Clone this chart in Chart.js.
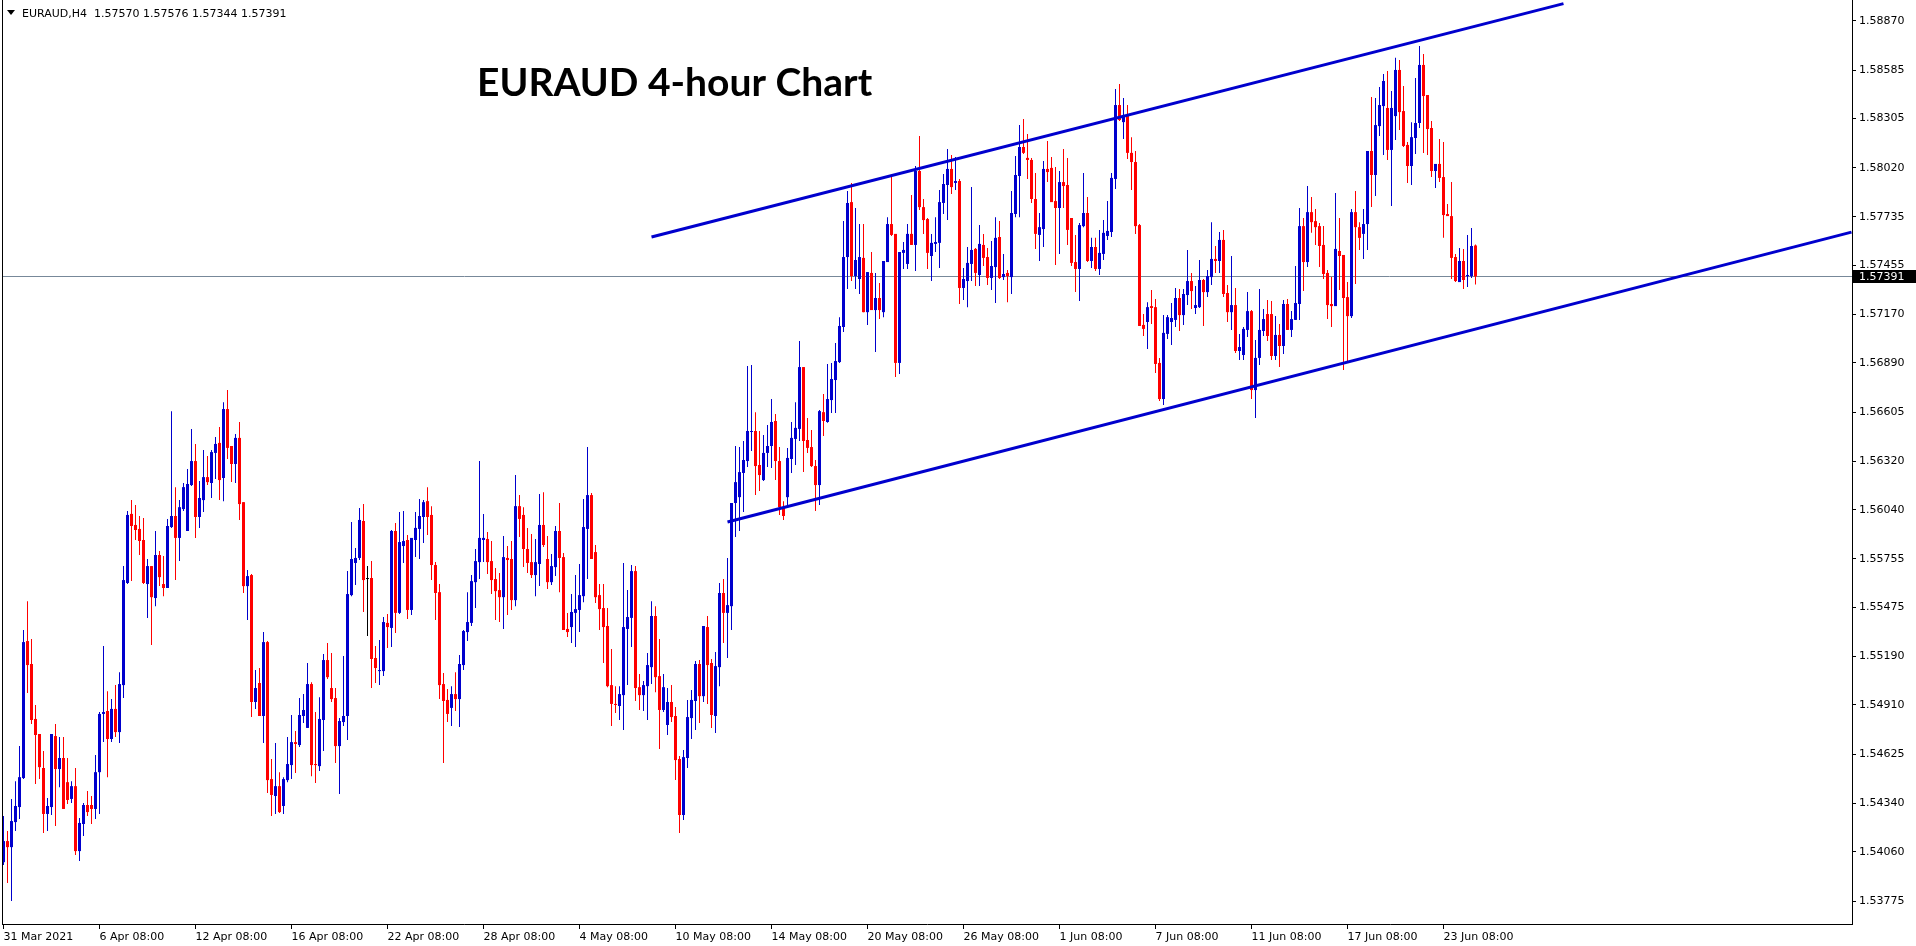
<!DOCTYPE html>
<html>
<head>
<meta charset="utf-8">
<title>EURAUD 4-hour Chart</title>
<script src="https://cdn.jsdelivr.net/npm/chart.js@4.4.1/dist/chart.umd.min.js"></script>
<style>
  html, body { margin: 0; padding: 0; background: #fff; }
  canvas { display: block; }
</style>
</head>
<body>
<canvas id="chart" width="1916" height="946"></canvas>
<script>
const symbol = 'EURAUD,H4';
const chartTitle = 'EURAUD 4-hour Chart';

// H4 candles, one per bar, oldest first
const opens = [
  1.54000, 1.54122, 1.54087, 1.54232, 1.54319, 1.54487, 1.55280, 1.55147, 1.54829, 1.54742,
  1.54545, 1.54279, 1.54319, 1.54730, 1.54539, 1.54603, 1.54463, 1.54366, 1.54440, 1.54064,
  1.54221, 1.54331, 1.54331, 1.54308, 1.54521, 1.54858, 1.54875, 1.54713, 1.54887, 1.54753,
  1.55025, 1.55616, 1.56016, 1.55952, 1.55929, 1.55865, 1.55610, 1.55714, 1.55529, 1.55778,
  1.55610, 1.55587, 1.55940, 1.56004, 1.55877, 1.56044, 1.55917, 1.56183, 1.56322, 1.55998,
  1.56096, 1.56229, 1.56195, 1.56369, 1.56427, 1.56224, 1.56623, 1.56409, 1.56305, 1.56456,
  1.56084, 1.55598, 1.55662, 1.54927, 1.55037, 1.54846, 1.55274, 1.54481, 1.54383, 1.54440,
  1.54325, 1.54475, 1.54562, 1.54695, 1.54678, 1.54846, 1.54777, 1.55031, 1.54568, 1.54556,
  1.54823, 1.55170, 1.55008, 1.54950, 1.54672, 1.54811, 1.54846, 1.55546, 1.55732, 1.55761,
  1.55975, 1.55639, 1.55645, 1.55182, 1.55106, 1.55106, 1.55385, 1.55356, 1.55917, 1.55443,
  1.55830, 1.55865, 1.55460, 1.55865, 1.55929, 1.55998, 1.56090, 1.56010, 1.55720, 1.55563,
  1.55031, 1.54939, 1.54893, 1.54973, 1.54944, 1.55141, 1.55332, 1.55385, 1.55621, 1.55737,
  1.55865, 1.55871, 1.55743, 1.55639, 1.55575, 1.55534, 1.55761, 1.55755, 1.55517, 1.56061,
  1.56010, 1.55813, 1.55737, 1.55662, 1.55726, 1.55952, 1.55755, 1.55621, 1.55708, 1.55917,
  1.55766, 1.55350, 1.55361, 1.55443, 1.55460, 1.55540, 1.55929, 1.56125, 1.55795, 1.55546,
  1.55471, 1.55367, 1.55025, 1.54916, 1.54904, 1.54967, 1.55350, 1.55414, 1.55685, 1.55013,
  1.54967, 1.55019, 1.55129, 1.55425, 1.55077, 1.54881, 1.54794, 1.54927, 1.54846, 1.54597,
  1.54273, 1.54603, 1.54834, 1.54933, 1.55147, 1.54961, 1.55361, 1.55153, 1.54846, 1.55129,
  1.55558, 1.55443, 1.55482, 1.56079, 1.56113, 1.56253, 1.56322, 1.56490, 1.56496, 1.56299,
  1.56212, 1.56369, 1.56409, 1.56554, 1.56322, 1.56055, 1.56113, 1.56334, 1.56450, 1.56508,
  1.56866, 1.56444, 1.56403, 1.56293, 1.56183, 1.56605, 1.56548, 1.56675, 1.56791, 1.56895,
  1.57098, 1.57503, 1.57821, 1.57393, 1.57376, 1.57498, 1.57184, 1.57411, 1.57196, 1.57266,
  1.57184, 1.57474, 1.57694, 1.57637, 1.56890, 1.57527, 1.57463, 1.57637, 1.57573, 1.58001,
  1.57792, 1.57723, 1.57509, 1.57579, 1.57585, 1.57816, 1.57920, 1.58013, 1.57932, 1.57943,
  1.57324, 1.57364, 1.57463, 1.57550, 1.57399, 1.57573, 1.57503, 1.57382, 1.57445, 1.57619,
  1.57387, 1.57411, 1.57387, 1.57752, 1.57972, 1.58140, 1.58077, 1.58065, 1.57839, 1.57631,
  1.57665, 1.58013, 1.58019, 1.57827, 1.57787, 1.57937, 1.57920, 1.57729, 1.57474, 1.57434,
  1.57682, 1.57758, 1.57480, 1.57561, 1.57434, 1.57521, 1.57625, 1.57648, 1.57955, 1.58383,
  1.58284, 1.58325, 1.58106, 1.58053, 1.57688, 1.57110, 1.57127, 1.57219, 1.57213, 1.56890,
  1.56681, 1.57058, 1.57127, 1.57139, 1.57266, 1.57167, 1.57283, 1.57364, 1.57208, 1.57213,
  1.57370, 1.57300, 1.57387, 1.57492, 1.57480, 1.57602, 1.57295, 1.57184, 1.57225, 1.56959,
  1.56936, 1.57081, 1.57190, 1.56733, 1.56919, 1.57075, 1.57173, 1.57173, 1.56930, 1.57052,
  1.56988, 1.57231, 1.57081, 1.57139, 1.57231, 1.57682, 1.57474, 1.57763, 1.57711, 1.57682,
  1.57573, 1.57411, 1.57231, 1.57219, 1.57538, 1.57515, 1.57271, 1.57161, 1.57763, 1.57676,
  1.57637, 1.57694, 1.58117, 1.57978, 1.58261, 1.58377, 1.58366, 1.58123, 1.58319, 1.58586,
  1.58348, 1.58152, 1.58030, 1.58192, 1.58279, 1.58615, 1.58441, 1.58250, 1.58001, 1.58042,
  1.57966, 1.57752, 1.57740, 1.57503, 1.57358, 1.57480, 1.57393, 1.57393, 1.57570
];
const highs = [
  1.54267, 1.54180, 1.54366, 1.54469, 1.54672, 1.55344, 1.55511, 1.55292, 1.54910, 1.54742,
  1.54643, 1.54372, 1.54742, 1.54800, 1.54724, 1.54724, 1.54603, 1.54469, 1.54545, 1.54256,
  1.54343, 1.54412, 1.54383, 1.54620, 1.54869, 1.55251, 1.54990, 1.54944, 1.55025, 1.55100,
  1.55714, 1.56033, 1.56096, 1.56067, 1.56004, 1.55993, 1.55755, 1.55714, 1.55917, 1.55801,
  1.55772, 1.55987, 1.56611, 1.56171, 1.56096, 1.56195, 1.56276, 1.56508, 1.56421, 1.56206,
  1.56386, 1.56351, 1.56386, 1.56461, 1.56519, 1.56663, 1.56733, 1.56409, 1.56479, 1.56548,
  1.56084, 1.55691, 1.55668, 1.55112, 1.55124, 1.55332, 1.55280, 1.54597, 1.54690, 1.54521,
  1.54492, 1.54724, 1.54852, 1.54759, 1.54950, 1.54973, 1.55153, 1.55042, 1.54869, 1.54955,
  1.55205, 1.55269, 1.55211, 1.55008, 1.54835, 1.55193, 1.55685, 1.55969, 1.55819, 1.56050,
  1.56073, 1.55714, 1.55743, 1.55251, 1.55286, 1.55419, 1.55437, 1.55923, 1.55964, 1.56027,
  1.56033, 1.55894, 1.55877, 1.56027, 1.56102, 1.56096, 1.56171, 1.56061, 1.55737, 1.55610,
  1.55095, 1.55002, 1.55019, 1.55100, 1.55199, 1.55344, 1.55563, 1.55662, 1.55813, 1.56322,
  1.56016, 1.55911, 1.55859, 1.55703, 1.55674, 1.55888, 1.55830, 1.55859, 1.56241, 1.56125,
  1.56055, 1.55935, 1.55900, 1.55871, 1.56131, 1.56142, 1.55888, 1.55784, 1.55946, 1.56079,
  1.55790, 1.55443, 1.55552, 1.55662, 1.55726, 1.56102, 1.56403, 1.56137, 1.55836, 1.55610,
  1.55610, 1.55471, 1.55234, 1.55019, 1.55019, 1.55732, 1.55575, 1.55720, 1.55714, 1.55089,
  1.55048, 1.55211, 1.55511, 1.55482, 1.55292, 1.55089, 1.55008, 1.55025, 1.54898, 1.54614,
  1.54649, 1.54939, 1.54996, 1.55164, 1.55170, 1.55367, 1.55425, 1.55176, 1.55216, 1.55616,
  1.55639, 1.55761, 1.56079, 1.56409, 1.56403, 1.56438, 1.56872, 1.56878, 1.56605, 1.56496,
  1.56473, 1.56531, 1.56681, 1.56594, 1.56403, 1.56090, 1.56398, 1.56548, 1.56663, 1.57017,
  1.56866, 1.56571, 1.56502, 1.56328, 1.56617, 1.56710, 1.56884, 1.56890, 1.57006, 1.57155,
  1.57711, 1.57885, 1.57932, 1.57787, 1.57694, 1.57694, 1.57416, 1.57532, 1.57411, 1.57353,
  1.57480, 1.57734, 1.57972, 1.57637, 1.57532, 1.57590, 1.57694, 1.57862, 1.58030, 1.58203,
  1.57839, 1.57729, 1.57637, 1.57734, 1.57891, 1.57984, 1.58129, 1.58094, 1.58082, 1.57955,
  1.57440, 1.57561, 1.57908, 1.57556, 1.57688, 1.57637, 1.57556, 1.57596, 1.57734, 1.57711,
  1.57521, 1.57428, 1.57885, 1.58088, 1.58267, 1.58302, 1.58215, 1.58077, 1.57990, 1.57758,
  1.58059, 1.58175, 1.58082, 1.58024, 1.58001, 1.58129, 1.58077, 1.57729, 1.57631, 1.57700,
  1.57990, 1.57850, 1.57614, 1.57614, 1.57660, 1.57717, 1.57827, 1.57990, 1.58476, 1.58505,
  1.58424, 1.58383, 1.58197, 1.58117, 1.57694, 1.57173, 1.57242, 1.57312, 1.57260, 1.56919,
  1.57167, 1.57167, 1.57237, 1.57324, 1.57318, 1.57318, 1.57544, 1.57411, 1.57335, 1.57486,
  1.57376, 1.57428, 1.57705, 1.57567, 1.57648, 1.57660, 1.57341, 1.57509, 1.57324, 1.57058,
  1.57098, 1.57300, 1.57196, 1.57023, 1.57318, 1.57202, 1.57254, 1.57248, 1.57161, 1.57116,
  1.57254, 1.57260, 1.57190, 1.57451, 1.57787, 1.57729, 1.57914, 1.57850, 1.57781, 1.57700,
  1.57682, 1.57428, 1.57387, 1.57874, 1.57729, 1.57515, 1.57358, 1.57781, 1.57885, 1.57705,
  1.57781, 1.58117, 1.58429, 1.58424, 1.58487, 1.58563, 1.58580, 1.58464, 1.58656, 1.58644,
  1.58493, 1.58169, 1.58284, 1.58540, 1.58724, 1.58679, 1.58441, 1.58290, 1.58042, 1.58186,
  1.58169, 1.57810, 1.57937, 1.57521, 1.57556, 1.57550, 1.57631, 1.57671, 1.57576
];
const lows = [
  1.53983, 1.53880, 1.53775, 1.54180, 1.54250, 1.54481, 1.54979, 1.54800, 1.54452, 1.54481,
  1.54169, 1.54180, 1.54273, 1.54209, 1.54434, 1.54308, 1.54337, 1.54343, 1.54041, 1.54006,
  1.54151, 1.54267, 1.54221, 1.54250, 1.54279, 1.54695, 1.54492, 1.54695, 1.54724, 1.54690,
  1.54950, 1.55610, 1.55627, 1.55865, 1.55778, 1.55610, 1.55414, 1.55257, 1.55482, 1.55598,
  1.55540, 1.55587, 1.55935, 1.55633, 1.55743, 1.56033, 1.55917, 1.56177, 1.55877, 1.55935,
  1.56027, 1.56183, 1.56108, 1.56218, 1.56096, 1.56090, 1.56334, 1.56200, 1.56195, 1.55981,
  1.55558, 1.55402, 1.54840, 1.54887, 1.54846, 1.54690, 1.54401, 1.54267, 1.54279, 1.54285,
  1.54279, 1.54463, 1.54481, 1.54516, 1.54666, 1.54806, 1.54777, 1.54498, 1.54458, 1.54527,
  1.54643, 1.55060, 1.54927, 1.54574, 1.54395, 1.54788, 1.54707, 1.55540, 1.55604, 1.55749,
  1.55448, 1.55309, 1.55008, 1.55037, 1.55025, 1.55077, 1.55240, 1.55245, 1.55327, 1.55437,
  1.55732, 1.55408, 1.55431, 1.55766, 1.55755, 1.55848, 1.55894, 1.55633, 1.55402, 1.54944,
  1.54574, 1.54811, 1.54788, 1.54875, 1.54782, 1.55112, 1.55280, 1.55367, 1.55471, 1.55639,
  1.55737, 1.55668, 1.55552, 1.55402, 1.55390, 1.55350, 1.55431, 1.55460, 1.55482, 1.55882,
  1.55708, 1.55674, 1.55645, 1.55540, 1.55598, 1.55824, 1.55581, 1.55604, 1.55656, 1.55563,
  1.55344, 1.55303, 1.55269, 1.55245, 1.55332, 1.55505, 1.55639, 1.55755, 1.55500, 1.55344,
  1.55153, 1.55013, 1.54788, 1.54864, 1.54823, 1.54765, 1.55025, 1.55245, 1.54933, 1.54881,
  1.54875, 1.54823, 1.55031, 1.54984, 1.54655, 1.54869, 1.54736, 1.54811, 1.54475, 1.54169,
  1.54244, 1.54545, 1.54713, 1.54765, 1.54806, 1.54927, 1.54916, 1.54777, 1.54748, 1.55019,
  1.55269, 1.55182, 1.55344, 1.55882, 1.55917, 1.56027, 1.56287, 1.56380, 1.56125, 1.56148,
  1.56206, 1.56287, 1.56282, 1.56212, 1.56010, 1.55981, 1.56055, 1.56253, 1.56299, 1.56438,
  1.56258, 1.56369, 1.56287, 1.56033, 1.56067, 1.56467, 1.56543, 1.56600, 1.56600, 1.56890,
  1.57069, 1.57318, 1.57364, 1.57318, 1.57289, 1.57184, 1.57110, 1.57196, 1.56953, 1.57144,
  1.57155, 1.57474, 1.57625, 1.56808, 1.56826, 1.57434, 1.57434, 1.57573, 1.57422, 1.57775,
  1.57637, 1.57434, 1.57364, 1.57532, 1.57440, 1.57752, 1.57717, 1.57868, 1.57891, 1.57231,
  1.57254, 1.57213, 1.57364, 1.57335, 1.57335, 1.57451, 1.57341, 1.57312, 1.57237, 1.57376,
  1.57370, 1.57242, 1.57289, 1.57734, 1.57734, 1.58100, 1.57955, 1.57816, 1.57550, 1.57480,
  1.57561, 1.57937, 1.57821, 1.57457, 1.57521, 1.57787, 1.57573, 1.57451, 1.57300, 1.57248,
  1.57676, 1.57474, 1.57440, 1.57422, 1.57399, 1.57486, 1.57602, 1.57619, 1.57897, 1.58290,
  1.58186, 1.58071, 1.57891, 1.57637, 1.57104, 1.57046, 1.56971, 1.57116, 1.56832, 1.56669,
  1.56646, 1.57029, 1.56994, 1.57098, 1.57075, 1.57110, 1.57225, 1.57202, 1.57173, 1.57208,
  1.57104, 1.57271, 1.57341, 1.57411, 1.57411, 1.57271, 1.57127, 1.57081, 1.56948, 1.56907,
  1.56907, 1.57040, 1.56681, 1.56571, 1.56878, 1.57046, 1.57017, 1.56907, 1.56907, 1.56866,
  1.56942, 1.57081, 1.57040, 1.57139, 1.57139, 1.57306, 1.57445, 1.57643, 1.57573, 1.57445,
  1.57376, 1.57144, 1.57098, 1.57219, 1.57312, 1.56849, 1.56895, 1.57150, 1.57347, 1.57544,
  1.57492, 1.57544, 1.57792, 1.57856, 1.58203, 1.58094, 1.58065, 1.57798, 1.58181, 1.58238,
  1.58140, 1.57932, 1.57920, 1.58100, 1.58250, 1.58106, 1.58094, 1.57966, 1.57903, 1.57937,
  1.57614, 1.57740, 1.57376, 1.57358, 1.57358, 1.57318, 1.57329, 1.57382, 1.57344
];
const closes = [
  1.54122, 1.54087, 1.54238, 1.54325, 1.54492, 1.55274, 1.55141, 1.54823, 1.54736, 1.54550,
  1.54279, 1.54325, 1.54742, 1.54539, 1.54603, 1.54308, 1.54360, 1.54440, 1.54064, 1.54227,
  1.54331, 1.54290, 1.54308, 1.54521, 1.54858, 1.54869, 1.54713, 1.54887, 1.54753, 1.55031,
  1.55633, 1.56010, 1.55946, 1.55923, 1.55859, 1.55616, 1.55714, 1.55534, 1.55778, 1.55650,
  1.55587, 1.55946, 1.56004, 1.55877, 1.56055, 1.56171, 1.56189, 1.56322, 1.55998, 1.56108,
  1.56229, 1.56200, 1.56374, 1.56421, 1.56212, 1.56623, 1.56398, 1.56305, 1.56456, 1.56073,
  1.55598, 1.55656, 1.54927, 1.55008, 1.54846, 1.55274, 1.54475, 1.54389, 1.54440, 1.54290,
  1.54481, 1.54568, 1.54695, 1.54684, 1.54852, 1.54881, 1.55031, 1.54562, 1.54562, 1.54829,
  1.55170, 1.55071, 1.54944, 1.54672, 1.54817, 1.54846, 1.55552, 1.55755, 1.55761, 1.55981,
  1.55633, 1.55639, 1.55176, 1.55124, 1.55112, 1.55390, 1.55361, 1.55917, 1.55443, 1.55853,
  1.55859, 1.55460, 1.55877, 1.55935, 1.56004, 1.56084, 1.55998, 1.55720, 1.55558, 1.55025,
  1.54933, 1.54858, 1.54973, 1.54944, 1.55147, 1.55338, 1.55390, 1.55627, 1.55743, 1.55877,
  1.55877, 1.55737, 1.55633, 1.55569, 1.55534, 1.55766, 1.55749, 1.55517, 1.56061, 1.55987,
  1.55813, 1.55732, 1.55662, 1.55737, 1.55952, 1.55836, 1.55621, 1.55714, 1.55917, 1.55761,
  1.55344, 1.55332, 1.55448, 1.55465, 1.55546, 1.55940, 1.56125, 1.55755, 1.55534, 1.55465,
  1.55361, 1.55019, 1.54916, 1.54910, 1.54973, 1.55361, 1.55419, 1.55685, 1.55008, 1.54967,
  1.55025, 1.55141, 1.55425, 1.55071, 1.54881, 1.55013, 1.54927, 1.54840, 1.54591, 1.54273,
  1.54608, 1.54840, 1.54939, 1.55147, 1.54961, 1.55367, 1.55141, 1.54852, 1.55135, 1.55558,
  1.55443, 1.55488, 1.56079, 1.56200, 1.56258, 1.56328, 1.56496, 1.56496, 1.56293, 1.56241,
  1.56369, 1.56409, 1.56548, 1.56322, 1.56055, 1.56004, 1.56340, 1.56456, 1.56514, 1.56866,
  1.56438, 1.56398, 1.56293, 1.56183, 1.56611, 1.56554, 1.56681, 1.56797, 1.56901, 1.57104,
  1.57503, 1.57816, 1.57393, 1.57486, 1.57503, 1.57184, 1.57416, 1.57196, 1.57266, 1.57196,
  1.57480, 1.57694, 1.57631, 1.56890, 1.57532, 1.57544, 1.57637, 1.57573, 1.58001, 1.57792,
  1.57717, 1.57527, 1.57585, 1.57590, 1.57821, 1.57926, 1.58013, 1.57908, 1.57943, 1.57324,
  1.57376, 1.57469, 1.57544, 1.57411, 1.57579, 1.57498, 1.57382, 1.57451, 1.57614, 1.57382,
  1.57405, 1.57393, 1.57758, 1.57978, 1.58140, 1.58106, 1.58065, 1.57839, 1.57637, 1.57676,
  1.58013, 1.57995, 1.57821, 1.57787, 1.57937, 1.57914, 1.57660, 1.57469, 1.57434, 1.57688,
  1.57758, 1.57480, 1.57561, 1.57434, 1.57527, 1.57643, 1.57654, 1.57961, 1.58383, 1.58296,
  1.58325, 1.58106, 1.58053, 1.57682, 1.57104, 1.57087, 1.57213, 1.57208, 1.56884, 1.56681,
  1.57064, 1.57155, 1.57150, 1.57266, 1.57167, 1.57289, 1.57364, 1.57306, 1.57225, 1.57370,
  1.57300, 1.57393, 1.57492, 1.57480, 1.57602, 1.57289, 1.57184, 1.57225, 1.56959, 1.56982,
  1.57087, 1.57190, 1.56733, 1.56919, 1.57081, 1.57144, 1.57046, 1.56930, 1.57052, 1.56988,
  1.57231, 1.57081, 1.57144, 1.57237, 1.57682, 1.57474, 1.57763, 1.57705, 1.57676, 1.57567,
  1.57405, 1.57225, 1.57219, 1.57550, 1.57509, 1.57266, 1.57161, 1.57763, 1.57676, 1.57614,
  1.57694, 1.58117, 1.57978, 1.58267, 1.58383, 1.58522, 1.58123, 1.58366, 1.58586, 1.58342,
  1.58146, 1.58030, 1.58197, 1.58279, 1.58615, 1.58435, 1.58244, 1.58001, 1.58042, 1.57961,
  1.57746, 1.57740, 1.57498, 1.57364, 1.57480, 1.57370, 1.57399, 1.57567, 1.57391
];

// time axis: bar index of each label and its text
const timeTickBars = [0, 24, 48, 72, 96, 120, 144, 168, 192, 216, 240, 264, 288, 312, 336, 360];
const timeTickLabels = [
  '31 Mar 2021', '6 Apr 08:00', '12 Apr 08:00', '16 Apr 08:00', '22 Apr 08:00', '28 Apr 08:00',
  '4 May 08:00', '10 May 08:00', '14 May 08:00', '20 May 08:00', '26 May 08:00', '1 Jun 08:00',
  '7 Jun 08:00', '11 Jun 08:00', '17 Jun 08:00', '23 Jun 08:00'
];
const priceTicks = [
  1.58870, 1.58585, 1.58305, 1.58020, 1.57735, 1.57455, 1.57170, 1.56890, 1.56605, 1.56320,
  1.56040, 1.55755, 1.55475, 1.55190, 1.54910, 1.54625, 1.54340, 1.54060, 1.53775
];

// channel trend lines: [bar, price] at both ends
const upperLineBars = [162, 390];
const upperLinePrices = [1.57619, 1.58970];
const lowerLineBars = [181, 462];
const lowerLinePrices = [1.55969, 1.57647];

const BULL = '#0000cd';
const BEAR = '#ff0000';
const DOJI = '#000000';
const FONT = '"DejaVu Sans", sans-serif';

const last = closes.length - 1;
const candleColors = opens.map((o, i) => closes[i] > o ? BULL : (closes[i] < o ? BEAR : DOJI));

Chart.defaults.font.family = FONT;
Chart.defaults.font.size = 11;
Chart.defaults.color = '#000';

function zeroPadding(s) {
  s.paddingTop = 0; s.paddingBottom = 0; s.paddingLeft = 0; s.paddingRight = 0;
}

const overlay = {
  id: 'overlay',
  beforeDraw(chart) {
    const ctx = chart.ctx;
    ctx.save();
    ctx.fillStyle = '#fff';
    ctx.fillRect(0, 0, chart.width, chart.height);
    ctx.restore();
  },
  beforeDatasetsDraw(chart) {
    const { ctx, chartArea, scales } = chart;
    const y = Math.round(scales.y.getPixelForValue(closes[last])) + 0.5;
    ctx.save();
    ctx.strokeStyle = '#778899';
    ctx.lineWidth = 1;
    ctx.beginPath();
    ctx.moveTo(chartArea.left, y);
    ctx.lineTo(chartArea.right, y);
    ctx.stroke();
    ctx.restore();
  },
  afterDraw(chart) {
    const { ctx, chartArea, scales } = chart;
    ctx.save();
    // left frame
    ctx.fillStyle = '#000';
    ctx.fillRect(chartArea.left, 0, 1, chartArea.bottom);

    // current price box on the axis
    const py = Math.round(scales.y.getPixelForValue(closes[last]));
    ctx.fillRect(chartArea.right + 1, py - 6, chart.width - chartArea.right - 1, 13);
    ctx.fillStyle = '#fff';
    ctx.font = '11px ' + FONT;
    ctx.textBaseline = 'middle';
    ctx.fillText(closes[last].toFixed(5), chartArea.right + 7, py + 1);

    // header line
    ctx.fillStyle = '#000';
    ctx.beginPath();
    ctx.moveTo(7, 10); ctx.lineTo(15, 10); ctx.lineTo(11, 15); ctx.closePath();
    ctx.fill();
    ctx.textBaseline = 'alphabetic';
    const ohlc = [opens[last], highs[last], lows[last], closes[last]].map(v => v.toFixed(5)).join(' ');
    ctx.fillText(symbol + '  ' + ohlc, 22, 17);

    // title
    ctx.font = 'bold 39px Lato, "Open Sans", sans-serif';
    ctx.fillText(chartTitle, 477, 96);
    ctx.restore();
  }
};

new Chart(document.getElementById('chart'), {
  type: 'bar',
  data: {
    datasets: [
      {
        type: 'line',
        data: upperLineBars.map((b, i) => ({ x: b, y: upperLinePrices[i] })),
        borderColor: BULL, borderWidth: 3, pointRadius: 0, tension: 0, order: 0
      },
      {
        type: 'line',
        data: lowerLineBars.map((b, i) => ({ x: b, y: lowerLinePrices[i] })),
        borderColor: BULL, borderWidth: 3, pointRadius: 0, tension: 0, order: 0
      },
      {
        data: opens.map((o, i) => ({ x: i, y: [o, closes[i]] })),
        backgroundColor: candleColors,
        barThickness: 3, minBarLength: 1, grouped: false, inflateAmount: 0,
        borderWidth: 0, order: 1
      },
      {
        data: lows.map((l, i) => ({ x: i, y: [l, highs[i]] })),
        backgroundColor: candleColors,
        barThickness: 1, minBarLength: 1, grouped: false, inflateAmount: 0,
        borderWidth: 0, order: 2
      }
    ]
  },
  options: {
    responsive: false,
    animation: false,
    devicePixelRatio: 1,
    layout: { padding: { left: 2, top: 0, right: 0, bottom: 0 } },
    plugins: { legend: { display: false }, tooltip: { enabled: false }, title: { display: false } },
    scales: {
      x: {
        type: 'linear',
        min: -0.375,
        max: 462.125,
        offset: false,
        grid: { offset: false, drawOnChartArea: false, drawTicks: true, tickLength: 5, color: '#000' },
        border: { display: true, color: '#000', width: 1 },
        ticks: {
          align: 'start', padding: 2, maxRotation: 0, autoSkip: false, color: '#000',
          callback: v => timeTickLabels[timeTickBars.indexOf(v)]
        },
        afterBuildTicks: s => { s.ticks = timeTickBars.map(v => ({ value: v })); },
        afterFit: s => { s.height = 22; zeroPadding(s); }
      },
      y: {
        position: 'right',
        min: 1.53642,
        max: 1.58991,
        grid: { drawOnChartArea: false, drawTicks: true, tickLength: 4, color: '#000' },
        border: { display: true, color: '#000', width: 1 },
        ticks: { padding: 3, autoSkip: false, color: '#000', callback: v => v.toFixed(5) },
        afterBuildTicks: s => { s.ticks = priceTicks.map(v => ({ value: v })); },
        afterFit: s => { s.width = 64; zeroPadding(s); }
      }
    }
  },
  plugins: [overlay]
});
</script>
</body>
</html>
